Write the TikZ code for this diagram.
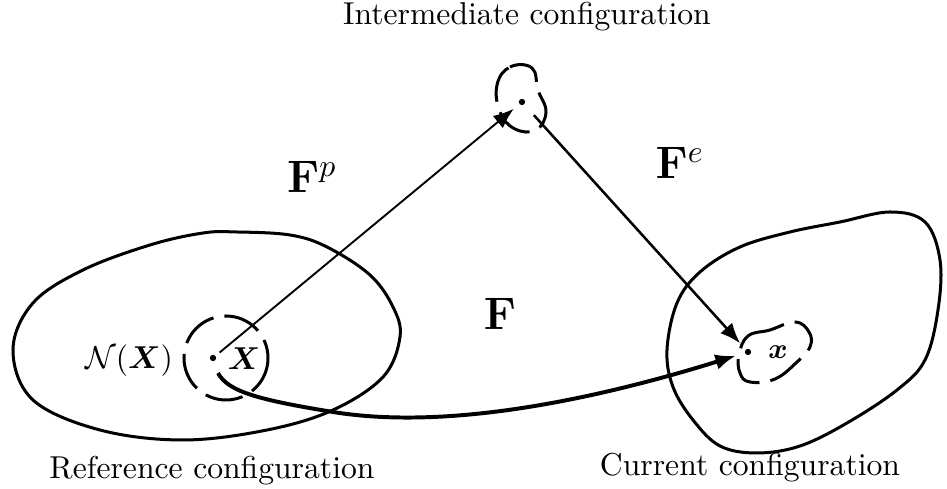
\documentclass[tikz,border=0pt]{standalone}
\usepackage{amsmath, amssymb}
\usepackage{bm}
\usepackage{tikz}
\usetikzlibrary{arrows.meta}

\begin{document}
\begin{tikzpicture}[x=0.316pt, y=-0.316pt,
      body/.style={line width=0.95pt},
      nbhd/.style={line width=0.95pt, dash pattern=on 12pt off 3.5pt},
      dot/.style={circle, fill, inner sep=0pt, minimum size=2pt},
      lbl/.style={inner sep=0pt},
      thinarr/.style={-{Latex[length=6.5pt, width=5pt]}, line width=0.6pt},
      arr/.style={-{Latex[length=6.5pt, width=5pt]}, line width=0.8pt},
      bigarr/.style={-{Latex[length=6.5pt, width=5pt]}, line width=1.25pt}
  ]
    \useasboundingbox (0,0) rectangle (947,489);

    % bodies
    \draw[body] plot[smooth cycle, tension=0.6] coordinates {
      (13,350) (33,303) (83,270) (150,245) (203,233) (237,232) (290,235)
      (327,247) (370,275) (393,307) (400,337) (383,377) (333,410)
      (267,430) (183,440) (100,430) (33,400)};
    \draw[body] plot[smooth cycle, tension=0.6] coordinates {
      (667,350) (677,303) (700,272) (740,247) (790,232) (840,222)
      (890,212) (925,222) (940,260) (938,310) (925,360) (897,390)
      (847,423) (800,446) (757,453) (720,446) (693,420) (673,387)};

    % neighbourhoods
    \draw[nbhd] (226,358) circle[radius=42];
    \draw[nbhd] plot[smooth cycle, tension=0.7] coordinates {
      (497,85) (510,67) (532,68) (538,90) (546,112) (536,130)
      (515,129) (500,112)};
    \draw[nbhd] plot[smooth cycle, tension=0.7] coordinates {
      (739,355) (748,336) (770,330) (795,322) (809,332) (810,347)
      (797,362) (775,379) (750,382) (740,373)};

    % points
    \node[dot] (X0) at (213,358) {};
    \node[dot] (Y0) at (522,102) {};
    \node[dot] (x0) at (748,352) {};
    \coordinate (Fstart) at ([shift={(5,15)}]X0.center);

    % maps
    \draw[thinarr, shorten <=1.5pt, shorten >=2.2pt] (X0) -- (Y0);
    \draw[arr, shorten <=4.4pt, shorten >=2.5pt] (Y0) -- (x0);
    \draw[bigarr, shorten >=2.8pt] (Fstart)
      .. controls (228,392) and (260,400) .. (333,412)
      .. controls (450,431) and (600,398) .. (x0);

    % labels
    \node[lbl] (nX) at (129,361) {$\mathcal{N}(\boldsymbol{X})$};
    \node[lbl] (lX) at (244,359) {$\boldsymbol{X}$};
    \node[lbl, font=\small] (lx) at (778,352) {$\boldsymbol{x}$};
    \node[lbl, font=\Large] (Fp) at (312,177) {$\mathbf{F}^p$};
    \node[lbl, font=\Large] (Fe) at (680,163) {$\mathbf{F}^e$};
    \node[lbl, font=\Large] (F) at (500,314) {$\mathbf{F}$};
    \node[lbl] (inter) at (527,17) {Intermediate configuration};
    \node[lbl] (refc) at (212,471) {Reference configuration};
    \node[lbl] (curc) at (750,468) {Current configuration};
  \end{tikzpicture}
\end{document}
